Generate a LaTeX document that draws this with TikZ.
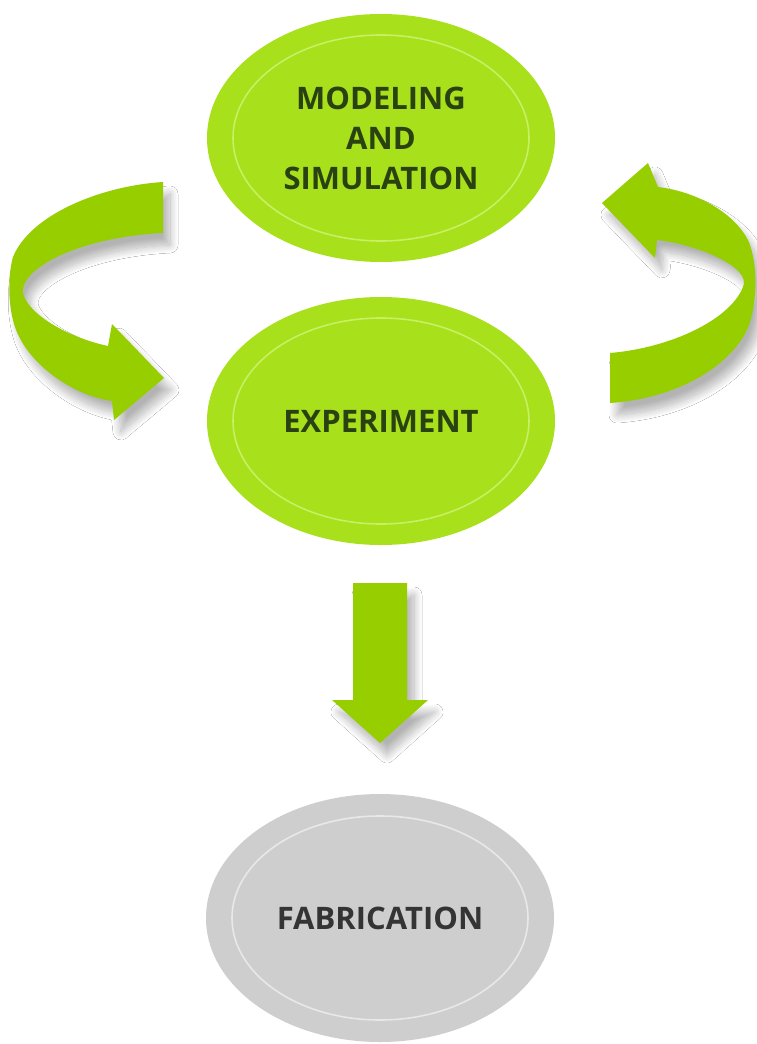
\documentclass[tikz,border=0pt]{standalone}
\usepackage{fontspec}
\setmainfont{Open Sans}
\usetikzlibrary{shapes.geometric,shadows.blur}
\definecolor{ellgreen}{RGB}{168,224,28}
\definecolor{ringgreen}{RGB}{200,240,100}
\definecolor{arrgreen}{RGB}{150,206,0}
\definecolor{txtgreen}{RGB}{42,66,18}
\definecolor{ellgray}{RGB}{206,206,206}
\definecolor{ringgray}{RGB}{232,232,232}
\definecolor{txtgray}{RGB}{52,52,52}
\tikzset{
  bubble/.style={ellipse, minimum width=348pt, minimum height=248pt, inner sep=0pt,
     font=\fontsize{31}{40}\selectfont\bfseries, align=center},
  greenbubble/.style={bubble, fill=ellgreen, text=txtgreen},
  graybubble/.style={bubble, fill=ellgray, text=txtgray},
  ring/.style={line width=1.6pt},
  bigarrow/.style={fill=arrgreen, blur shadow={shadow xshift=7pt, shadow yshift=-12pt,
     shadow blur radius=8pt, shadow blur steps=16, shadow opacity=30}}
}
\begin{document}
\begin{tikzpicture}[x=1pt,y=-1pt]
\useasboundingbox[fill=white] (0,0) rectangle (757,1044);
% arrows
\path[bigarrow] (163,182) .. controls (100,186) and (30,215) .. (13,257)
   .. controls (8,275) and (8,300) .. (13,320)
   .. controls (22,360) and (70,395) .. (112,401)
   -- (114,420) -- (164,378) -- (112,324) -- (108,346)
   .. controls (70,338) and (28,315) .. (23,293)
   .. controls (20,268) and (80,237) .. (163,233) -- cycle;
\path[bigarrow] (602,203) -- (648,163) -- (658,187)
   .. controls (700,192) and (735,215) .. (748,240)
   .. controls (758,262) and (758,305) .. (747,330)
   .. controls (730,365) and (680,398) .. (610,403)
   -- (610,353)
   .. controls (670,348) and (730,320) .. (743,287)
   .. controls (752,268) and (700,245) .. (657,240)
   -- (655,258) -- cycle;
\path[bigarrow] (353,583) -- (407,583) -- (407,700) -- (428,700) -- (380,743)
   -- (332,700) -- (353,700) -- cycle;
% bubbles
\node[greenbubble] (model) at (381,138) {MODELING\\AND\\SIMULATION};
\node[greenbubble] (exp) at (381,421) {EXPERIMENT};
\node[graybubble] (fab) at (380,918) {FABRICATION};
\draw[ring, draw=ringgreen] (model.center) ellipse [x radius=148, y radius=103];
\draw[ring, draw=ringgreen] (exp.center) ellipse [x radius=148, y radius=103];
\draw[ring, draw=ringgray] (fab.center) ellipse [x radius=148, y radius=102];
\end{tikzpicture}
\end{document}
